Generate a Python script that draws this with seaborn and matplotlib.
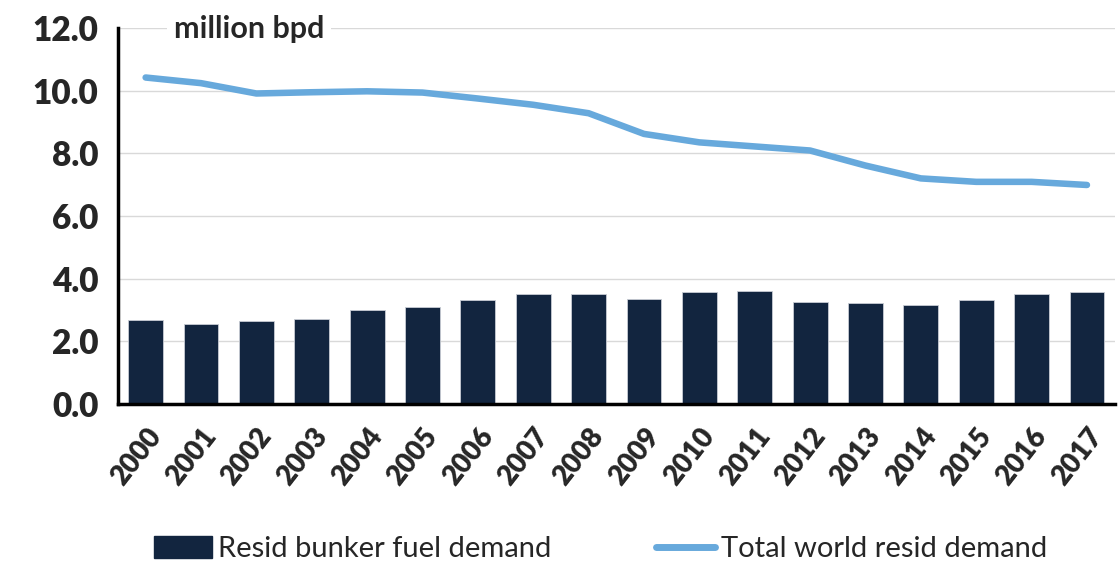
import matplotlib
matplotlib.use("Agg")
import matplotlib.pyplot as plt
import seaborn as sns
import numpy as np
from matplotlib.patches import Patch
from matplotlib.lines import Line2D
from matplotlib.ticker import FixedLocator

years = [str(y) for y in range(2000, 2018)]
bunker = [2.69, 2.56, 2.66, 2.71, 2.99, 3.11, 3.31, 3.51, 3.52, 3.36,
          3.58, 3.61, 3.27, 3.23, 3.17, 3.32, 3.51, 3.56]
total = [10.42, 10.24, 9.91, 9.95, 9.98, 9.94, 9.75, 9.55, 9.28, 8.62,
         8.35, 8.22, 8.09, 7.61, 7.20, 7.09, 7.09, 6.99]
yticks = [0, 2, 4, 6, 8, 10, 12]

bar_color = "#12253F"
line_color = "#67A9DC"

sns.set_style("white")
plt.rcParams['font.family'] = ['Lato', 'DejaVu Sans']

fig = plt.figure(figsize=(11.18, 5.67), dpi=100)
ax = fig.add_axes([0.1055, 0.2875, 0.8915, 0.6631])

sns.barplot(x=years, y=bunker, color=bar_color, width=0.63, ax=ax,
            edgecolor="#c8ccd4", linewidth=0.6, saturation=1, zorder=2)
sns.pointplot(x=years, y=total, color=line_color, markers="", linestyles="-",
              ax=ax, zorder=3)
for ln in ax.lines:
    ln.set_linewidth(4.7)
    ln.set_solid_capstyle("round")

ax.set_ylim(0, 12)
ax.set_xlim(-0.5, len(years) - 0.5)
ax.set_yticks(yticks)
ax.set_yticklabels([f"{v:.1f}" for v in yticks], fontsize=24, fontweight="heavy")
ax.yaxis.grid(True, color="#d9d9d9", linewidth=1, zorder=0)
ax.set_axisbelow(True)

ax.set_xticks(range(len(years)))
ax.set_xticklabels(years, rotation=52, ha="right", rotation_mode="anchor",
                   fontsize=20, fontweight="heavy")
ax.tick_params(axis="x", which="major", length=0, pad=14)
ax.xaxis.set_minor_locator(FixedLocator(np.arange(-0.5, len(years), 1.0)))
ax.tick_params(axis="x", which="minor", length=8, width=2, color="black", direction="out")
ax.tick_params(axis="y", which="major", length=8, width=2, color="black", direction="out", pad=6)

for s in ["top", "right"]:
    ax.spines[s].set_visible(False)
for s in ["left", "bottom"]:
    ax.spines[s].set_color("black")
    ax.spines[s].set_linewidth(2.5)
ax.set_xlabel("")
ax.set_ylabel("")

ax.text(0.056, 0.997, "million bpd", transform=ax.transAxes, fontsize=22,
        fontweight="bold", va="center", ha="left",
        bbox=dict(facecolor="white", edgecolor="none", pad=5), zorder=5)

handles = [Patch(facecolor=bar_color, edgecolor=bar_color),
           Line2D([0], [0], color=line_color, linewidth=5)]
fig.legend(handles, ["Resid bunker fuel demand", "Total world resid demand"],
           loc="lower center", bbox_to_anchor=(0.537, -0.038), ncol=2,
           frameon=False, fontsize=21, handlelength=2.0, handleheight=0.8,
           handletextpad=0.2, columnspacing=3.6)

fig.savefig("out.png", dpi=100)
